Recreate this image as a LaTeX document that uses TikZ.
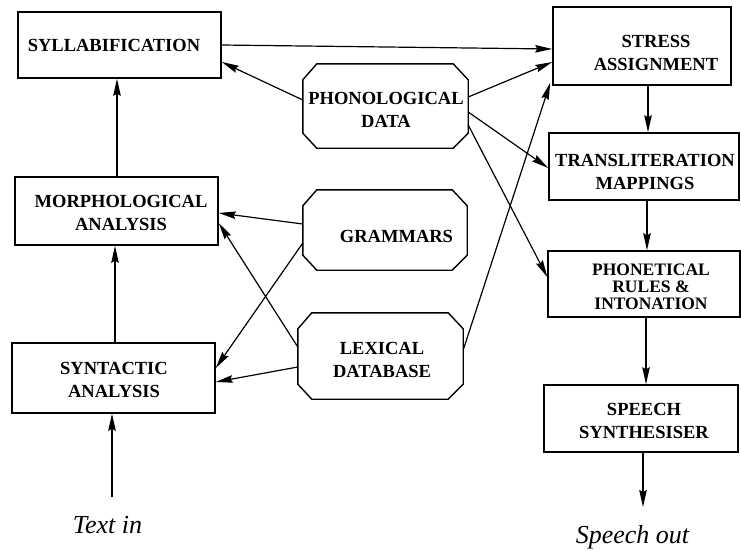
\documentclass[tikz,border=0pt]{standalone}
\usepackage{fontspec}
\setmainfont{Liberation Serif}
\usetikzlibrary{arrows.meta}
\tikzset{
  box/.style={draw, line width=1.5pt, rectangle, inner sep=0pt},
  octo/.style={rectangle, inner sep=0pt},
  octoline/.style={line width=1.4pt, line join=round},
  lbl/.style={font=\fontsize{18.5}{23}\selectfont\bfseries, align=center, inner sep=0pt},
  lbltight/.style={font=\fontsize{17.5}{17}\selectfont\bfseries, align=center, inner sep=0pt},
  io/.style={font=\fontsize{26}{30}\selectfont\itshape, inner sep=0pt, anchor=base},
  conn/.style={line width=1.2pt, -{Stealth[length=17pt,width=7.5pt,inset=2pt]}},
}
\newcommand{\drawocto}[1]{%
  \draw[octoline] ([xshift=14pt]#1.north west) -- ([xshift=-15pt]#1.north east)
    -- ([yshift=-16pt]#1.north east) -- ([yshift=15pt]#1.south east)
    -- ([xshift=-15pt]#1.south east) -- ([xshift=14pt]#1.south west)
    -- ([yshift=15pt]#1.south west) -- ([yshift=-16pt]#1.north west) -- cycle;}
\begin{document}
\begin{tikzpicture}[x=1pt,y=-1pt]
\useasboundingbox (0,0) rectangle (741,550);
% boxes
\node[box, minimum width=203pt, minimum height=66pt] (syl) at (119.5,45) {};
\node[box, minimum width=203pt, minimum height=68pt] (mor) at (116.5,211) {};
\node[box, minimum width=203pt, minimum height=70pt] (syn) at (113.5,378) {};
\node[box, minimum width=178pt, minimum height=78pt] (str) at (642,46) {};
\node[box, minimum width=190pt, minimum height=67pt] (tr) at (644,166.5) {};
\node[box, minimum width=192pt, minimum height=66pt] (ph) at (644,284) {};
\node[box, minimum width=194pt, minimum height=67pt] (sp) at (641,418.5) {};
% octagons
\node[octo, minimum width=165pt, minimum height=84pt] (pd) at (385.5,106) {};
\node[octo, minimum width=164pt, minimum height=80pt] (gr) at (385,230) {};
\node[octo, minimum width=165pt, minimum height=86pt] (lex) at (380.5,356) {};
\drawocto{pd}
\drawocto{gr}
\drawocto{lex}
% labels
\node[lbl] (sylT) at (114,45) {SYLLABIFICATION};
\node[lbl] (morT) at (121,212.5) {MORPHOLOGICAL\\ANALYSIS};
\node[lbl] (synT) at (114,380) {SYNTACTIC\\ANALYSIS};
\node[lbl] (strT) at (656,52.5) {STRESS\\ASSIGNMENT};
\node[lbl] (trT) at (645,171.5) {TRANSLITERATION\\MAPPINGS};
\node[lbltight] (phT) at (651,287) {PHONETICAL\\RULES \&\\INTONATION};
\node[lbl] (spT) at (644,420.5) {SPEECH\\SYNTHESISER};
\node[lbl] (pdT) at (386,109.5) {PHONOLOGICAL\\DATA};
\node[lbl] (grT) at (396.5,236.5) {GRAMMARS};
\node[lbl] (lexT) at (382,360) {LEXICAL\\DATABASE};
\node[io] (tin) at (107.5,533) {Text in};
\node[io] (sout) at (632.5,543) {Speech out};
\coordinate (tinc) at (112,497);
\coordinate (soutc) at (643,507);
% connectors
\draw[conn] (syl.east) -- ([yshift=-3pt]str.west);
\draw[conn] ([yshift=6pt]pd.west) -- ([yshift=-17pt]syl.east);
\draw[conn] ([yshift=9pt]pd.east) -- ([yshift=-16pt]str.west);
\draw[conn] ([yshift=-6pt]pd.east) -- ([yshift=-1.5pt]tr.west);
\draw[conn] ([yshift=-19pt]pd.east) -- ([yshift=7pt]ph.west);
\draw[conn] ([yshift=6pt]lex.east) -- ([xshift=-2pt,yshift=3pt]str.south west);
\draw[conn] ([xshift=0.5pt]mor.north) -- ([xshift=-2.5pt]syl.south);
\draw[conn] ([xshift=1.5pt]syn.north) -- ([xshift=-1.5pt]mor.south);
\draw[conn] (tinc) -- (tinc |- syn.south);
\draw[conn] ([yshift=6pt]gr.west) -- ([yshift=-2pt]mor.east);
\draw[conn] ([yshift=9pt]lex.west) -- ([yshift=-12pt]mor.east);
\draw[conn] ([yshift=-13pt]gr.west) -- ([yshift=10pt]syn.east);
\draw[conn] ([yshift=-11pt]lex.west) -- ([yshift=-4pt]syn.east);
\draw[conn] ([xshift=6pt]str.south) -- ([xshift=6pt]str.south |- tr.north);
\draw[conn] ([xshift=3pt]tr.south) -- ([xshift=3pt]tr.south |- ph.north);
\draw[conn] ([xshift=2pt]ph.south) -- ([xshift=2pt]ph.south |- sp.north);
\draw[conn] ([xshift=2pt]sp.south) -- (soutc);
\end{tikzpicture}
\end{document}
